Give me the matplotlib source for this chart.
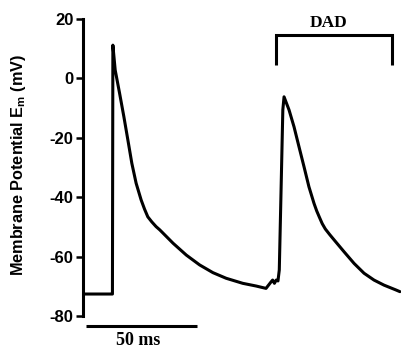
import matplotlib
matplotlib.use("Agg")
import matplotlib.pyplot as plt
from matplotlib import font_manager

# ── Data ──────────────────────────────────────────────────────────────────────
# first AP: rest, upstroke, decay to the diastolic baseline; then the DAD-triggered AP
TIME_MS = [0.0, 11.9, 12.4, 12.6, 13.65, 15.63, 17.57, 19.37, 21.17, 23.11,
           25.36, 26.9, 28.38, 30.18, 32.12, 33.8, 39.8, 45.8, 51.8, 57.8, 63.8,
           71.3, 77.3, 81.8, 84.1, 84.8, 85.6, 86.4, 87.2, 87.8, 88.7, 89.4,
           89.95, 92.2, 94.46, 96.7, 98.96, 101.2, 103.5, 104.7, 105.9, 107.2,
           108.6, 110.6, 112.6, 117.1, 121.6, 126.1, 130.6, 135.1, 140.4, 142.3]
EM_MV = [-72.6, -72.6, -72.6, 11.2, 2.8, -5.0, -12.9, -20.7, -28.6, -35.3,
         -40.9, -44.0, -46.6, -48.3, -49.9, -51.0, -55.5, -59.5, -62.8, -65.4, -67.3,
         -69.0, -69.9, -70.7, -68.5, -67.9, -69.0, -67.9, -68.2, -64.5, -34.3, -10.6,
         -6.2, -10.6, -16.3, -23.0, -29.7, -36.5, -42.1, -44.6, -46.7, -48.9,
         -50.7, -52.6, -54.4, -58.4, -62.3, -65.6, -67.9, -69.6, -71.2, -71.8]
Y_TICKS = [-80, -60, -40, -20, 0, 20]

SCALE_BAR_MS = (0.5, 50.5)
SCALE_BAR_LABEL = "50 ms"
DAD_WINDOW_MS = (86.5, 138.7)
DAD_LABEL = "DAD"

# ── Style ─────────────────────────────────────────────────────────────────────
W, H = 401, 350
SERIF = "Liberation Serif"
LW = 2.2


def _bold_family(candidates):
    # pick the first family that really has a bold face installed
    for fam in candidates:
        path = font_manager.findfont(
            font_manager.FontProperties(family=fam, weight="bold"),
            fallback_to_default=False)
        if "bold" in path.lower():
            return fam
    return "DejaVu Sans"


SANS = _bold_family(["Liberation Sans", "Arimo", "Noto Sans", "DejaVu Sans"])
plt.rcParams["font.family"] = [SANS, "DejaVu Sans"]
plt.rcParams["font.weight"] = "bold"
plt.rcParams["mathtext.default"] = "regular"
plt.rcParams["axes.unicode_minus"] = False

fig = plt.figure(figsize=(W / 100, H / 100), dpi=100)
ax = fig.add_axes([83 / W, (H - 316) / H, (W - 83) / W, 297 / H])

ax.plot(TIME_MS, EM_MV, color="black", linewidth=LW,
        solid_joinstyle="round", solid_capstyle="round")

ax.set_xlim(-0.9, 142.8)
ax.set_ylim(-80, 20)
ax.set_yticks(Y_TICKS)
ax.tick_params(axis="y", length=5, width=1.8, pad=2, labelsize=12)
ax.set_xticks([])
for side in ("top", "right", "bottom"):
    ax.spines[side].set_visible(False)
ax.spines["left"].set_linewidth(2.2)
ax.spines["left"].set_position(("data", -0.9))

fig.text(19 / W, 1 - 165 / H, "Membrane Potential E$_{m}$ (mV)",
         rotation=90, ha="center", va="center", fontweight="bold", fontsize=11.7)

# scale bar
ax.plot(SCALE_BAR_MS, [-83.4, -83.4], color="black", linewidth=LW,
        clip_on=False, solid_capstyle="butt")
ax.text(24.0, -88.3, SCALE_BAR_LABEL, ha="center", va="center", fontfamily=SERIF,
        fontweight="bold", fontsize=13, clip_on=False)

# DAD bracket
x0, x1 = DAD_WINDOW_MS
ax.plot([x0, x0, x1, x1], [4.5, 14.6, 14.6, 4.5], color="black",
        linewidth=LW, clip_on=False, solid_joinstyle="miter", solid_capstyle="butt")
ax.text((x0 + x1) / 2 - 2.5, 18.5, DAD_LABEL, ha="center", va="center",
        fontfamily=SERIF, fontweight="bold", fontsize=12.5, clip_on=False)

fig.savefig("out.png", dpi=100)
